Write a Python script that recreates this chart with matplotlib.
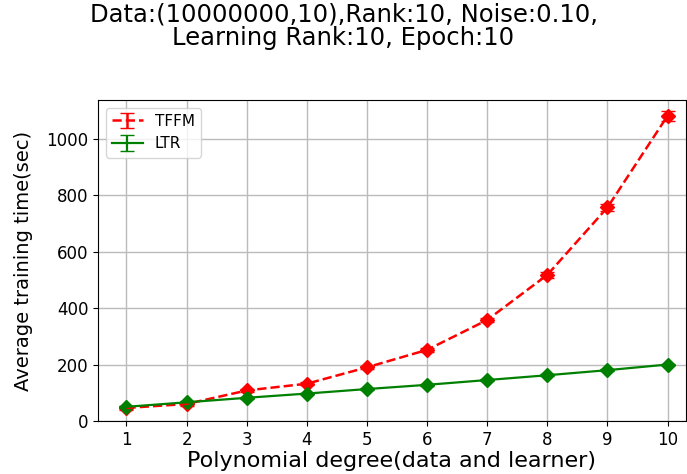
import matplotlib.pyplot as plt
import numpy as np

# degree of polynomial (data and learner)
degrees = [1, 2, 3, 4, 5, 6, 7, 8, 9, 10]
tffm_time = [46, 60, 108, 132, 190, 252, 358, 518, 757, 1082]
tffm_err = [6, 6, 6, 6, 6, 8, 8, 10, 12, 18]
ltr_time = [50, 66, 82, 97, 113, 128, 145, 162, 180, 200]
ltr_err = [3, 3, 3, 3, 3, 3, 3, 3, 3, 3]

fig = plt.figure(figsize=(6.87, 4.74), dpi=100)
ax = fig.add_axes([0.143, 0.112, 0.855, 0.677])

# lines with error bars (these go in the legend), then the diamond markers
ax.errorbar(degrees, tffm_time, yerr=tffm_err, fmt='r--', capsize=5, linewidth=1.8,
            label='TFFM')
ax.errorbar(degrees, ltr_time, yerr=ltr_err, fmt='g-', capsize=5, linewidth=1.6,
            label='LTR')
ax.plot(degrees, tffm_time, 'rD', markersize=7)
ax.plot(degrees, ltr_time, 'gD', markersize=7)

ax.set_xlim(0.53, 10.3)
ax.set_ylim(0, 1138)
ax.set_xticks(degrees)
ax.set_yticks([0, 200, 400, 600, 800, 1000])
ax.tick_params(labelsize=12)
ax.grid(True, color='#bbbbbb', linewidth=1)

ax.set_xlabel('Polynomial degree(data and learner)', fontsize=16, labelpad=2)
ax.set_ylabel('Average training time(sec)', fontsize=14, labelpad=10)
fig.suptitle('Data:(10000000,10),Rank:10, Noise:0.10,\nLearning Rank:10, Epoch:10',
             fontsize=17.5, y=0.995, linespacing=1.0)
ax.legend(loc='upper left', fontsize=11)

plt.savefig('out.png', dpi=100)
